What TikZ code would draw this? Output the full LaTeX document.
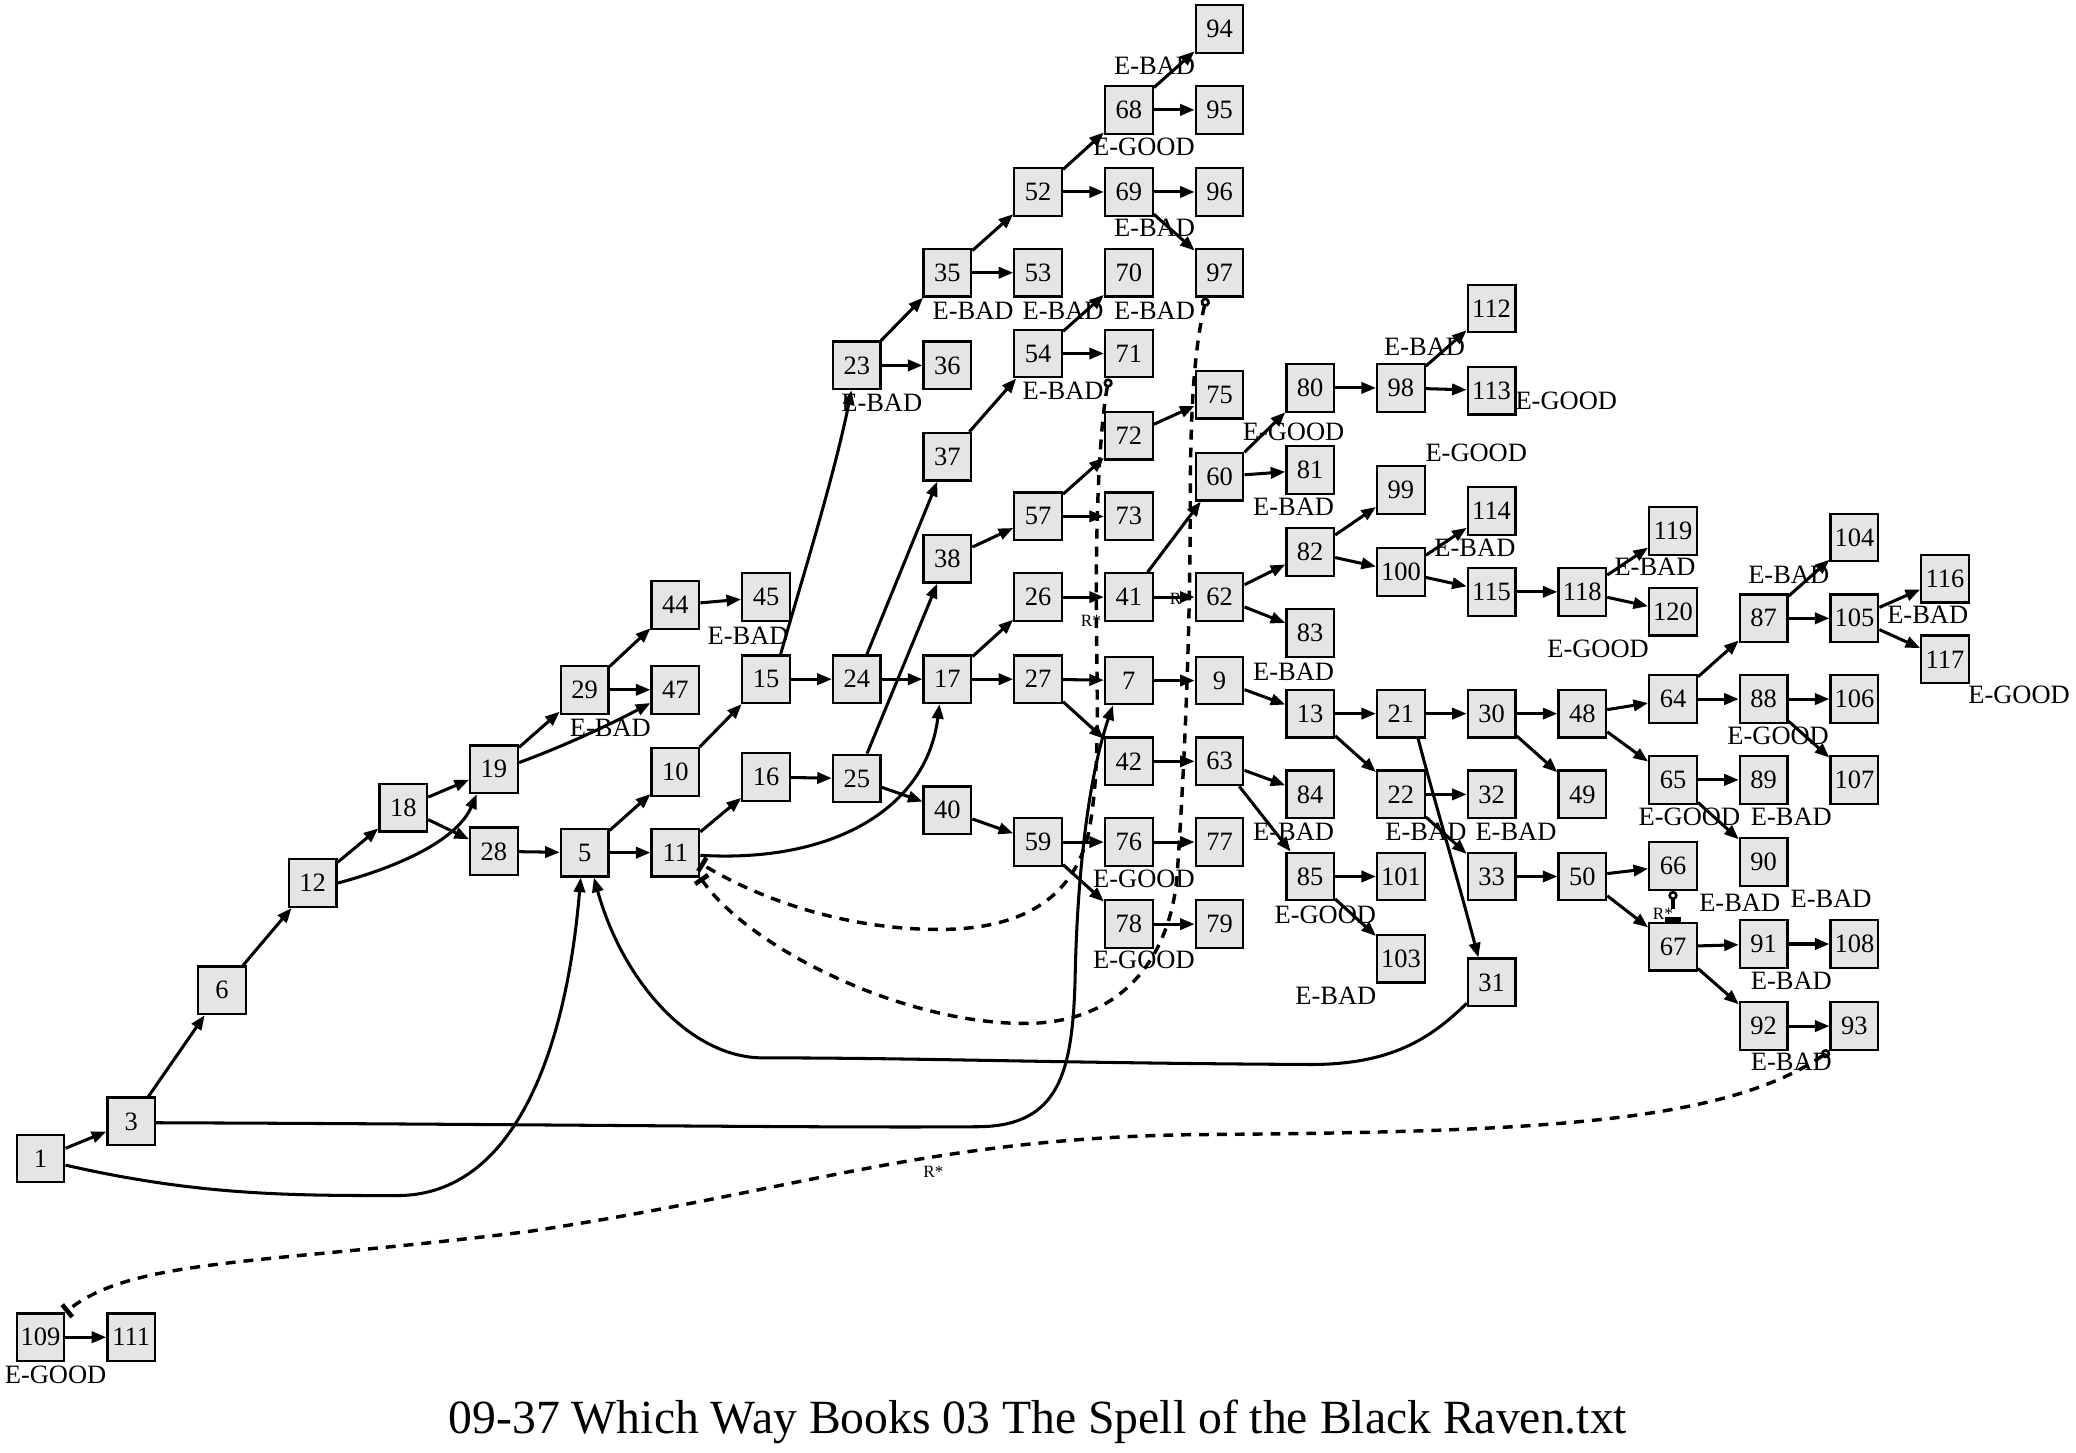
\documentclass[tikz,border=0pt]{standalone}
\usepackage{fontspec}
\setmainfont{Liberation Serif}
\usetikzlibrary{arrows.meta}
\definecolor{boxfill}{HTML}{E5E5E5}
\begin{document}
\begin{tikzpicture}[x=1pt,y=-1pt,
  pg/.style={draw=black, fill=boxfill, line width=1.7pt, minimum width=36pt, minimum height=36pt, inner sep=0pt, font=\fontsize{20}{24}\selectfont},
  link/.style={line width=2.3pt, -{Triangle[length=11pt,width=8.5pt]}},
  backlink/.style={line width=2.6pt, dash pattern=on 7.5pt off 6pt, {Circle[open,length=7pt,width=7pt,line width=2pt]}-{Rectangle[length=3.5pt,width=12pt]}},
  lbl/.style={anchor=base, yshift=-6.6pt, inner sep=0pt, font=\fontsize{20}{24}\selectfont},
  rlbl/.style={inner sep=0pt, font=\fontsize{13}{15}\selectfont},
]
\useasboundingbox (0,0) rectangle (1568,1097);

% ---- pages ----
\node[pg] (n1) at (30.6,875) {1};
\node[pg] (n109) at (30.6,1010) {109};
\node[pg] (n3) at (99.1,847) {3};
\node[pg] (n111) at (99.1,1010) {111};
\node[pg] (n6) at (167.6,748) {6};
\node[pg] (n12) at (236.1,667) {12};
\node[pg] (n18) at (304.6,610) {18};
\node[pg] (n19) at (373.1,581) {19};
\node[pg] (n28) at (373.1,643) {28};
\node[pg] (n29) at (441.6,521) {29};
\node[pg] (n5) at (441.6,644) {5};
\node[pg] (n44) at (510.1,457) {44};
\node[pg] (n47) at (510.1,521) {47};
\node[pg] (n10) at (510.1,583) {10};
\node[pg] (n11) at (510.1,644) {11};
\node[pg] (n45) at (578.6,451) {45};
\node[pg] (n15) at (578.6,513) {15};
\node[pg] (n16) at (578.6,587) {16};
\node[pg] (n23) at (647.1,276) {23};
\node[pg] (n24) at (647.1,513) {24};
\node[pg] (n25) at (647.1,588) {25};
\node[pg] (n35) at (715.6,206) {35};
\node[pg] (n36) at (715.6,276) {36};
\node[pg] (n37) at (715.6,345) {37};
\node[pg] (n38) at (715.6,422) {38};
\node[pg] (n17) at (715.6,513) {17};
\node[pg] (n40) at (715.6,612) {40};
\node[pg] (n52) at (784.1,145) {52};
\node[pg] (n53) at (784.1,206) {53};
\node[pg] (n54) at (784.1,267) {54};
\node[pg] (n57) at (784.1,390) {57};
\node[pg] (n26) at (784.1,451) {26};
\node[pg] (n27) at (784.1,513) {27};
\node[pg] (n59) at (784.1,636) {59};
\node[pg] (n68) at (852.6,83) {68};
\node[pg] (n69) at (852.6,145) {69};
\node[pg] (n70) at (852.6,206) {70};
\node[pg] (n71) at (852.6,267) {71};
\node[pg] (n72) at (852.6,329) {72};
\node[pg] (n73) at (852.6,390) {73};
\node[pg] (n41) at (852.6,451) {41};
\node[pg] (n7) at (852.6,514) {7};
\node[pg] (n42) at (852.6,575) {42};
\node[pg] (n76) at (852.6,636) {76};
\node[pg] (n78) at (852.6,698) {78};
\node[pg] (n94) at (921.1,22) {94};
\node[pg] (n95) at (921.1,83) {95};
\node[pg] (n96) at (921.1,145) {96};
\node[pg] (n97) at (921.1,206) {97};
\node[pg] (n75) at (921.1,298) {75};
\node[pg] (n60) at (921.1,360) {60};
\node[pg] (n62) at (921.1,451) {62};
\node[pg] (n9) at (921.1,514) {9};
\node[pg] (n63) at (921.1,575) {63};
\node[pg] (n77) at (921.1,636) {77};
\node[pg] (n79) at (921.1,698) {79};
\node[pg] (n80) at (989.6,293) {80};
\node[pg] (n81) at (989.6,355) {81};
\node[pg] (n82) at (989.6,417) {82};
\node[pg] (n83) at (989.6,478) {83};
\node[pg] (n13) at (989.6,539) {13};
\node[pg] (n84) at (989.6,600) {84};
\node[pg] (n85) at (989.6,662) {85};
\node[pg] (n98) at (1058.1,293) {98};
\node[pg] (n99) at (1058.1,370) {99};
\node[pg] (n100) at (1058.1,432) {100};
\node[pg] (n21) at (1058.1,539) {21};
\node[pg] (n22) at (1058.1,600) {22};
\node[pg] (n101) at (1058.1,662) {101};
\node[pg] (n103) at (1058.1,724) {103};
\node[pg] (n112) at (1126.6,233) {112};
\node[pg] (n113) at (1126.6,295) {113};
\node[pg] (n114) at (1126.6,386) {114};
\node[pg] (n115) at (1126.6,447) {115};
\node[pg] (n30) at (1126.6,539) {30};
\node[pg] (n32) at (1126.6,600) {32};
\node[pg] (n33) at (1126.6,662) {33};
\node[pg] (n31) at (1126.6,742) {31};
\node[pg] (n118) at (1195.1,447) {118};
\node[pg] (n48) at (1195.1,539) {48};
\node[pg] (n49) at (1195.1,600) {49};
\node[pg] (n50) at (1195.1,662) {50};
\node[pg] (n119) at (1263.6,401) {119};
\node[pg] (n120) at (1263.6,462) {120};
\node[pg] (n64) at (1263.6,528) {64};
\node[pg] (n65) at (1263.6,589) {65};
\node[pg] (n66) at (1263.6,654) {66};
\node[pg] (n67) at (1263.6,715) {67};
\node[pg] (n87) at (1332.1,467) {87};
\node[pg] (n88) at (1332.1,528) {88};
\node[pg] (n89) at (1332.1,589) {89};
\node[pg] (n90) at (1332.1,651) {90};
\node[pg] (n91) at (1332.1,713) {91};
\node[pg] (n92) at (1332.1,775) {92};
\node[pg] (n104) at (1400.6,406) {104};
\node[pg] (n105) at (1400.6,467) {105};
\node[pg] (n106) at (1400.6,528) {106};
\node[pg] (n107) at (1400.6,589) {107};
\node[pg] (n108) at (1400.6,713) {108};
\node[pg] (n93) at (1400.6,775) {93};
\node[pg] (n116) at (1469.1,437) {116};
\node[pg] (n117) at (1469.1,498) {117};

% ---- ending labels ----
\node[lbl] (l1) at (872,50) {E-BAD};
\node[lbl] (l2) at (864,111) {E-GOOD};
\node[lbl] (l3) at (872,172) {E-BAD};
\node[lbl] (l4) at (735,235) {E-BAD};
\node[lbl] (l5) at (803,235) {E-BAD};
\node[lbl] (l6) at (872,235) {E-BAD};
\node[lbl] (l7) at (666,304) {E-BAD};
\node[lbl] (l8) at (803,295) {E-BAD};
\node[lbl] (l9) at (1076,262) {E-BAD};
\node[lbl] (l10) at (977,326) {E-GOOD};
\node[lbl] (l11) at (1183,303) {E-GOOD};
\node[lbl] (l12) at (1115,342) {E-GOOD};
\node[lbl] (l13) at (977,383) {E-BAD};
\node[lbl] (l14) at (1114,414) {E-BAD};
\node[lbl] (l15) at (1250,428) {E-BAD};
\node[lbl] (l16) at (1207,490) {E-GOOD};
\node[lbl] (l17) at (1351,434) {E-BAD};
\node[lbl] (l18) at (1456,464) {E-BAD};
\node[lbl] (l19) at (1525,525) {E-GOOD};
\node[lbl] (l20) at (1343,556) {E-GOOD};
\node[lbl] (l21) at (977,507) {E-BAD};
\node[lbl] (l22) at (977,628) {E-BAD};
\node[lbl] (l23) at (1077,628) {E-BAD};
\node[lbl] (l24) at (1145,628) {E-BAD};
\node[lbl] (l25) at (565,480) {E-BAD};
\node[lbl] (l26) at (461,550) {E-BAD};
\node[lbl] (l27) at (864,664) {E-GOOD};
\node[lbl] (l28) at (864,725) {E-GOOD};
\node[lbl] (l29) at (1001,691) {E-GOOD};
\node[lbl] (l30) at (1009,752) {E-BAD};
\node[lbl] (l31) at (1276,617) {E-GOOD};
\node[lbl] (l32) at (1353,617) {E-BAD};
\node[lbl] (l33) at (1314,682) {E-BAD};
\node[lbl] (l34) at (1383,679) {E-BAD};
\node[lbl] (l35) at (1353,741) {E-BAD};
\node[lbl] (l36) at (1353,802) {E-BAD};
\node[lbl] (l37) at (42,1038) {E-GOOD};

% ---- straight choices ----
\foreach \a/\b in {1/3,3/6,6/12,12/18,18/19,18/28,19/29,29/44,29/47,44/45,28/5,5/10,5/11,10/15,11/16,
  15/24,16/25,24/17,24/37,25/38,25/40,17/26,17/27,23/35,23/36,35/52,35/53,52/68,52/69,68/94,68/95,
  69/96,69/97,37/54,54/70,54/71,38/57,57/72,57/73,72/75,26/41,41/60,41/62,27/7,27/42,7/9,42/63,40/59,
  59/76,59/78,76/77,78/79,60/80,60/81,80/98,98/112,98/113,62/82,62/83,82/99,82/100,100/114,100/115,
  115/118,118/119,118/120,9/13,13/21,13/22,21/30,30/48,30/49,48/64,48/65,64/87,64/88,87/104,87/105,
  105/116,105/117,88/106,88/107,65/89,65/90,22/32,22/33,33/50,50/66,50/67,67/91,67/92,91/108,92/93,
  63/84,63/85,85/101,85/103,109/111}
  \draw[link] (n\a) -- (n\b);

% ---- curved choices ----
\draw[link] ([yshift=-5pt]n1.east) .. controls (150,903) and (220,903) .. (300,903)
  .. controls (390,903) and (428,790) .. ([xshift=-3pt]n5.south);
\draw[link] ([yshift=-1pt]n3.east) .. controls (400,849) and (620,852) .. (740,851)
  .. controls (800,850) and (810,810) .. (812,740)
  .. controls (814,640) and (826,575) .. ([xshift=-12pt]n7.south);
\draw[link] (n12.east) .. controls (300,655) and (345,635) .. ([xshift=-13pt]n19.south);
\draw[link] ([yshift=5pt]n19.east) .. controls (430,562) and (465,545) .. ([yshift=-10pt]n47.west);
\draw[link] ([yshift=-2pt]n11.east) .. controls (630,652) and (700,610) .. ([xshift=-6pt]n17.south);
\draw[link] ([xshift=11pt]n15.north) .. controls (605,440) and (630,360) .. ([xshift=-4pt]n23.south);
\draw[link] ([xshift=13pt]n21.south) .. controls (1082,600) and (1100,660) .. ([xshift=-10pt]n31.north);
\draw[link] ([yshift=3pt]n31.south west) .. controls (1080,785) and (1050,804) .. (990,804)
  .. controls (800,803) and (700,799) .. (575,799)
  .. controls (520,798) and (470,740) .. ([xshift=7pt]n5.south);

% ---- returns ----
\draw[backlink] ([xshift=-15pt]n71.south) .. controls (831,320) and (828,380) .. (828,450)
  .. controls (828,520) and (832,580) .. (822,630)
  .. controls (810,680) and (770,702) .. (709,702)
  .. controls (640,702) and (575,680) .. ([yshift=-8pt]n11.east);
\draw[backlink] ([xshift=-10pt]n97.south) .. controls (903,260) and (899,300) .. (899,380)
  .. controls (899,460) and (896,560) .. (889,662)
  .. controls (884,720) and (850,773) .. (774,773)
  .. controls (680,773) and (565,715) .. (n11.south east);
\draw[backlink] (n66.south) -- (n67.north);
\draw[backlink] (n93.south west) .. controls (1300,850) and (1150,855) .. (900,857)
  .. controls (700,860) and (600,900) .. (400,930)
  .. controls (200,955) and (100,950) .. (n109.north east);

\node[rlbl] (r1) at (824,469) {R*};
\node[rlbl] (r2) at (888,452) {R};
\node[rlbl] (r3) at (1256,690) {R*};
\node[rlbl] (r4) at (705,885) {R*};

\node[anchor=base, inner sep=0pt, font=\fontsize{36}{40}\selectfont] (title) at (784,1083)
  {09-37 Which Way Books 03 The Spell of the Black Raven.txt};
\end{tikzpicture}
\end{document}
